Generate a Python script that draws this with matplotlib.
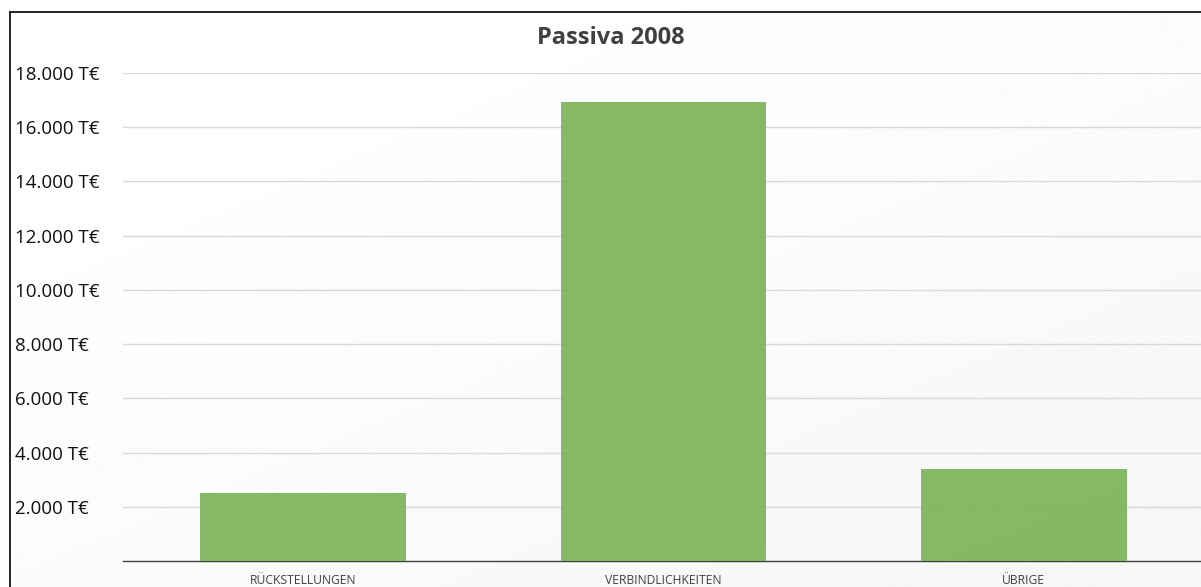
import numpy as np
import matplotlib.pyplot as plt
from matplotlib.ticker import FuncFormatter

plt.rcParams['font.family'] = ['Open Sans', 'DejaVu Sans']

categories = ['RÜCKSTELLUNGEN', 'VERBINDLICHKEITEN', 'ÜBRIGE']
values = [2500, 16920, 3400]
y_ticks = [2000, 4000, 6000, 8000, 10000, 12000, 14000, 16000, 18000]

W, H = 1201, 587
fig = plt.figure(figsize=(W / 100, H / 100), dpi=100)

# subtle diagonal background gradient (white top-left -> light grey bottom-right)
bg = fig.add_axes([0, 0, 1, 1], zorder=-10)
yy, xx = np.mgrid[0:1:200j, 0:1:400j]
grad = np.clip((xx * 0.6 + yy * 0.7) - 0.25, 0, 1)
bg.imshow(1 - 0.035 * grad, cmap='gray', vmin=0, vmax=1, aspect='auto',
          extent=[0, 1, 0, 1], origin='upper')
# white strip outside the frame
bg.axvspan(0, 10 / W, color='white', zorder=2)
bg.axhspan(1 - 12 / H, 1, color='white', zorder=2)
bg.plot([10 / W, 10 / W], [0, 1 - 12 / H], color='black', lw=1.2, zorder=3)
bg.plot([10 / W, 1], [1 - 12 / H, 1 - 12 / H], color='black', lw=1.2, zorder=3)
bg.set_xlim(0, 1)
bg.set_ylim(0, 1)
bg.axis('off')

left, right = 123 / W, 1204 / W
bottom, top = 1 - 561 / H, 1 - 73 / H
ax = fig.add_axes([left, bottom, right - left, top - bottom])
ax.patch.set_alpha(0)

x = np.arange(len(categories))
ax.bar(x, values, width=0.57, color='#7cb45a', alpha=0.93, zorder=3)

ax.set_xlim(-0.5, 2.5)
ax.set_ylim(0, 18000)
ax.set_yticks(y_ticks)
ax.yaxis.set_major_formatter(
    FuncFormatter(lambda v, p: f'{int(v):,} T€'.replace(',', '.')))
ax.grid(axis='y', color='#d9d9d9', lw=1.0, zorder=0)
ax.set_xticks(x)
ax.set_xticklabels(categories, fontsize=8.7, color='#404040')

for s in ['top', 'right', 'left']:
    ax.spines[s].set_visible(False)
ax.spines['bottom'].set_color('#404040')
ax.spines['bottom'].set_linewidth(1.0)
ax.tick_params(axis='both', length=0)
ax.tick_params(axis='y', labelsize=13.5, labelcolor='#111111', pad=0)
for lab in ax.get_yticklabels():
    lab.set_horizontalalignment('left')
    lab.set_x(-0.1)
ax.tick_params(axis='x', pad=9)

fig.text(611 / W, 1 - 38 / H, 'Passiva 2008', ha='center', va='center',
         fontsize=17, fontweight='bold', color='#404040')

fig.savefig('out.png', dpi=100)
